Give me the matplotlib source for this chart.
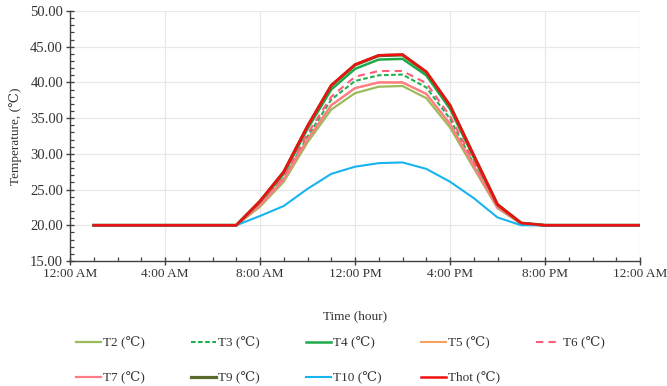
import matplotlib
matplotlib.use("Agg")
import matplotlib.pyplot as plt
from matplotlib.ticker import MultipleLocator, FixedLocator, FixedFormatter, FormatStrFormatter

plt.rcParams['font.family'] = ['Liberation Serif', 'DejaVu Serif']

hours = list(range(1, 25))
base_pre = [20.0] * 7
base_post = [20.0] * 5

T2 = base_pre + [22.6, 26.1, 31.6, 36.2, 38.5, 39.4, 39.5, 37.8, 33.7, 28.0, 22.4, 20.2] + base_post
T3 = base_pre + [22.9, 26.6, 32.4, 37.6, 40.2, 41.0, 41.1, 39.3, 34.9, 28.6, 22.5, 20.3] + base_post
T4 = base_pre + [23.2, 27.2, 33.5, 39.0, 41.9, 43.2, 43.3, 41.0, 36.3, 29.5, 22.8, 20.3] + base_post
T5 = base_pre + [22.8, 26.4, 32.0, 36.8, 39.2, 40.0, 40.0, 38.4, 34.2, 28.3, 22.5, 20.2] + base_post
T6 = base_pre + [23.0, 26.8, 32.8, 38.0, 40.8, 41.6, 41.6, 39.9, 35.3, 28.9, 22.6, 20.3] + base_post
T7 = base_pre + [22.8, 26.4, 32.0, 36.8, 39.2, 40.0, 40.0, 38.4, 34.2, 28.3, 22.5, 20.2] + base_post
T9 = base_pre + [23.35, 27.45, 33.85, 39.55, 42.45, 43.75, 43.85, 41.45, 36.75, 29.75, 22.9, 20.3] + base_post
T10 = base_pre + [21.3, 22.7, 25.1, 27.2, 28.2, 28.7, 28.8, 27.9, 26.1, 23.8, 21.1, 20.0] + base_post
Thot = base_pre + [23.4, 27.5, 33.9, 39.6, 42.5, 43.8, 43.9, 41.5, 36.8, 29.8, 22.9, 20.3] + base_post

xtick_pos = [0, 4, 8, 12, 16, 20, 24]
xtick_labels = ["12:00 AM", "4:00 AM", "8:00 AM", "12:00 PM", "4:00 PM", "8:00 PM", "12:00 AM"]

fig = plt.figure(figsize=(6.67, 3.86), dpi=100)
ax = fig.add_axes([70/667, 1-261/386, 570/667, 250/386])

series = [
    ("T2 (℃)", T2, "#9BBB59", "-", 1.6),
    ("T3 (℃)", T3, "#1FB04F", (0, (2.2, 1.2)), 1.5),
    ("T4 (℃)", T4, "#1FAA4A", "-", 1.8),
    ("T5 (℃)", T5, "#F7A15C", "-", 1.5),
    ("T6 (℃)", T6, "#FF5C78", (0, (3.5, 2.5)), 1.5),
    ("T7 (℃)", T7, "#FF7C86", "-", 1.6),
    ("T9 (℃)", T9, "#5A6B2E", "-", 2.3),
    ("T10 (℃)", T10, "#18B4F0", "-", 1.5),
    ("Thot (℃)", Thot, "#F01010", "-", 1.8),
]

handles = {}
for name, vals, col, ls, lw in series:
    h, = ax.plot(hours, vals, color=col, linestyle=ls, linewidth=lw, label=name)
    handles[name] = h

ax.set_xlim(0, 24)
ax.set_ylim(15, 50)
ax.xaxis.set_major_locator(FixedLocator(xtick_pos))
ax.xaxis.set_major_formatter(FixedFormatter(xtick_labels))
ax.xaxis.set_minor_locator(MultipleLocator(1))
ax.yaxis.set_major_locator(MultipleLocator(5))
ax.yaxis.set_minor_locator(MultipleLocator(1))
ax.yaxis.set_major_formatter(FormatStrFormatter("%.2f"))

ax.grid(True, which='major', color='#E8E8E8', linewidth=0.9)
ax.set_axisbelow(True)
for s in ['top', 'right']:
    ax.spines[s].set_visible(False)
for s in ['left', 'bottom']:
    ax.spines[s].set_color('#404040')
    ax.spines[s].set_linewidth(1.0)

ax.tick_params(axis='both', which='major', direction='inout', length=6, width=1.0,
               color='#404040', labelcolor='#333333', pad=2)
ax.tick_params(axis='x', which='major', labelsize=9.5)
ax.tick_params(axis='y', which='major', labelsize=10.5)
ax.tick_params(axis='both', which='minor', direction='in', length=3, width=0.9, color='#404040')

ax.set_xlabel("Time (hour)", fontsize=9.5, color='#333333', labelpad=22)
ax.set_ylabel("Temperature, (℃)", fontsize=9.5, color='#333333', labelpad=6)

# legend: equally spaced entries in two rows
row_y = [343, 378]
col_x = [76, 191, 306, 421, 536]
layout = [["T2 (℃)", "T3 (℃)", "T4 (℃)", "T5 (℃)", "T6 (℃)"],
          ["T7 (℃)", "T9 (℃)", "T10 (℃)", "Thot (℃)"]]
for r, names in enumerate(layout):
    for c, name in enumerate(names):
        fig.legend([handles[name]], [name], loc='center left',
                   bbox_to_anchor=(col_x[c]/667, 1-row_y[r]/386),
                   frameon=False, fontsize=9.5, handlelength=1.9, handletextpad=0.15,
                   borderpad=0, borderaxespad=0, labelcolor='#333333')

fig.savefig("out.png", dpi=100)
